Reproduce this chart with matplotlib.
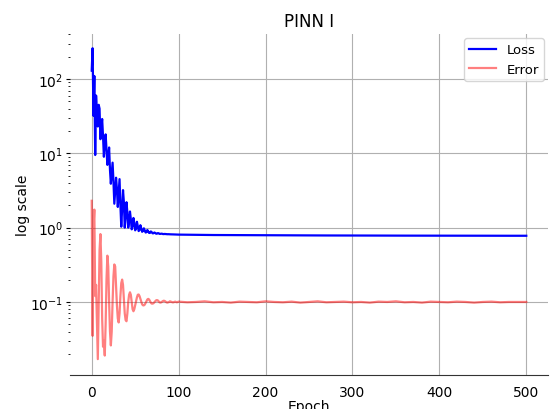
import matplotlib
matplotlib.use("Agg")
import matplotlib.pyplot as plt
import numpy as np

# Epochs 0..99 (per epoch), then every 10 epochs up to 500
epochs_early = list(range(0, 100))
epochs_late = list(range(100, 501, 10))

loss_early = [
    130, 260, 32, 110, 9.5, 60, 35, 23, 45, 40,
    15.5, 22, 29, 17, 9, 14, 18, 11, 7, 9,
    12, 6, 3.9, 5.5, 7.5, 4.2, 2.1, 3.2, 4.7, 3.3,
    1.9, 3.0, 4.5, 2.0, 1.03, 1.8, 3.2, 2.2, 1.0, 1.4,
    2.2, 1.6, 1.0, 1.2, 1.65, 1.3, 0.95, 1.05, 1.35, 1.15,
    0.92, 0.98, 1.2, 1.05, 0.9, 0.93, 1.08, 0.98, 0.88, 0.9,
    0.98, 0.92, 0.86, 0.87, 0.93, 0.89, 0.85, 0.85, 0.89, 0.87,
    0.84, 0.84, 0.86, 0.85, 0.83, 0.83, 0.845, 0.84, 0.825, 0.825,
    0.83, 0.828, 0.82, 0.82, 0.823, 0.82, 0.817, 0.816, 0.817, 0.815,
    0.814, 0.813, 0.813, 0.812, 0.811, 0.81, 0.81, 0.809, 0.808, 0.808,
]
loss_late = [
    0.806, 0.803, 0.8, 0.798, 0.796, 0.795, 0.794, 0.793, 0.792, 0.791,
    0.79, 0.789, 0.788, 0.788, 0.787, 0.786, 0.786, 0.785, 0.785, 0.784,
    0.784, 0.783, 0.783, 0.782, 0.782, 0.782, 0.781, 0.781, 0.781, 0.78,
    0.78, 0.78, 0.779, 0.779, 0.779, 0.779, 0.778, 0.778, 0.778, 0.778,
    0.778,
]

error_early = [
    2.3, 0.035, 1.0, 1.75, 0.12, 0.17, 0.05, 0.017, 0.1, 0.5,
    0.82, 0.35, 0.06, 0.025, 0.03, 0.019, 0.05, 0.2, 0.42, 0.3,
    0.1, 0.04, 0.026, 0.04, 0.1, 0.22, 0.32, 0.3, 0.17, 0.09,
    0.06, 0.053, 0.07, 0.12, 0.18, 0.2, 0.17, 0.11, 0.07, 0.057,
    0.055, 0.07, 0.1, 0.125, 0.135, 0.125, 0.1, 0.08, 0.075, 0.08,
    0.09, 0.1, 0.115, 0.125, 0.126, 0.12, 0.11, 0.1, 0.093, 0.09,
    0.09, 0.092, 0.097, 0.103, 0.108, 0.11, 0.108, 0.103, 0.098, 0.095,
    0.095, 0.096, 0.099, 0.102, 0.105, 0.106, 0.105, 0.102, 0.099, 0.098,
    0.099, 0.101, 0.103, 0.104, 0.103, 0.101, 0.099, 0.098, 0.099, 0.1,
    0.102, 0.101, 0.1, 0.099, 0.099, 0.1, 0.101, 0.1, 0.099, 0.1,
]
error_late = [
    0.101, 0.099, 0.1, 0.102, 0.099, 0.1, 0.098, 0.101, 0.1, 0.099,
    0.102, 0.1, 0.099, 0.101, 0.098, 0.1, 0.102, 0.099, 0.1, 0.101,
    0.099, 0.1, 0.098, 0.101, 0.1, 0.102, 0.099, 0.1, 0.098, 0.101,
    0.1, 0.099, 0.101, 0.1, 0.098, 0.1, 0.101, 0.099, 0.1, 0.1,
    0.1,
]

epochs = epochs_early + epochs_late
loss = loss_early + loss_late
error = error_early + error_late

fig = plt.figure(figsize=(5.5, 4.1), dpi=100)
ax = fig.add_axes([70 / 550, 34 / 410, 478 / 550, 341 / 410])

ax.plot(epochs, loss, color="blue", lw=1.6, label="Loss")
ax.plot(epochs, error, color="red", alpha=0.5, lw=1.6, label="Error")
ax.set_yscale("log")
ax.set_xlim(-25, 525)
ax.set_ylim(0.0104, 404)

ax.grid(True, which="major", color="#b0b0b0", lw=0.8)
ax.set_axisbelow(True)
for s in ["top", "right", "left"]:
    ax.spines[s].set_visible(False)
ax.spines["bottom"].set_color("#333333")

ax.set_title("PINN I", fontsize=12)
ax.set_xlabel("Epoch", fontsize=10, labelpad=0)
ax.set_ylabel("log scale", fontsize=10, labelpad=0)
ax.tick_params(labelsize=10)
ax.tick_params(axis="y", which="major", length=3, pad=2)
ax.tick_params(axis="y", which="minor", length=1.5)
ax.tick_params(axis="x", which="major", length=0, pad=7)
ax.set_xticks([0, 100, 200, 300, 400, 500])
ax.legend(loc="upper right", fontsize=9.5, borderaxespad=0.3)

fig.savefig("out.png", dpi=100)
